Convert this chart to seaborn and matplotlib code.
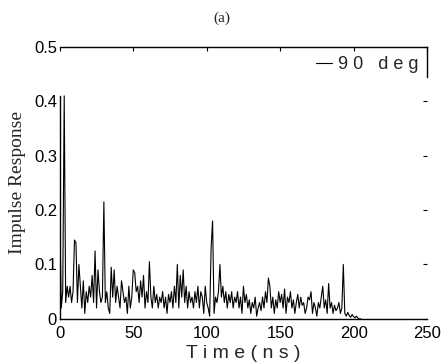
import numpy as np
import pandas as pd
import matplotlib
matplotlib.use("Agg")
import matplotlib.pyplot as plt
import seaborn as sns

# impulse response samples, one per ns
time_ns = list(range(0, 206))
response = [
    0.19, 0.02, 0.05, 0.41, 0.03, 0.06, 0.04, 0.06, 0.03, 0.05,
    0.145, 0.14, 0.03, 0.10, 0.06, 0.02, 0.07, 0.01, 0.05, 0.03,
    0.06, 0.04, 0.08, 0.03, 0.125, 0.02, 0.09, 0.05, 0.03, 0.04,
    0.215, 0.03, 0.05, 0.02, 0.01, 0.095, 0.04, 0.09, 0.03, 0.06,
    0.04, 0.02, 0.07, 0.05, 0.03, 0.04, 0.01, 0.06, 0.02, 0.04,
    0.09, 0.085, 0.05, 0.06, 0.03, 0.07, 0.04, 0.08, 0.02, 0.05,
    0.03, 0.105, 0.04, 0.02, 0.06, 0.03, 0.045, 0.02, 0.04, 0.03,
    0.05, 0.02, 0.04, 0.01, 0.045, 0.03, 0.05, 0.02, 0.06, 0.03,
    0.10, 0.02, 0.08, 0.04, 0.09, 0.03, 0.06, 0.02, 0.05, 0.03,
    0.04, 0.02, 0.05, 0.03, 0.06, 0.02, 0.05, 0.04, 0.01, 0.06,
    0.03, 0.02, 0.005, 0.13, 0.18, 0.01, 0.04, 0.03, 0.05, 0.10,
    0.04, 0.06, 0.03, 0.05, 0.02, 0.045, 0.03, 0.05, 0.02, 0.04,
    0.03, 0.05, 0.02, 0.04, 0.01, 0.06, 0.03, 0.045, 0.02, 0.035,
    0.01, 0.03, 0.02, 0.04, 0.005, 0.02, 0.03, 0.015, 0.04, 0.02,
    0.05, 0.03, 0.075, 0.06, 0.02, 0.04, 0.01, 0.035, 0.02, 0.05,
    0.03, 0.045, 0.02, 0.055, 0.01, 0.04, 0.03, 0.05, 0.02, 0.035,
    0.01, 0.03, 0.045, 0.02, 0.04, 0.025, 0.03, 0.01, 0.02, 0.04,
    0.035, 0.05, 0.01, 0.03, 0.02, 0.005, 0.03, 0.02, 0.04, 0.06,
    0.02, 0.035, 0.01, 0.065, 0.02, 0.03, 0.01, 0.025, 0.015, 0.02,
    0.03, 0.01, 0.02, 0.10, 0.01, 0.005, 0.012, 0.006, 0.003, 0.008,
    0.004, 0.002, 0.005, 0.001, 0.0, 0.0,
]
x_ticks = [0, 50, 100, 150, 200, 250]
y_ticks = [0, 0.1, 0.2, 0.3, 0.4, 0.5]
y_tick_labels = ["0", "0.1", "0.2", "0.3", "0.4", "0.5"]

df = pd.DataFrame({"Time": time_ns, "Response": response})

sns.set_style("white")
plt.rcParams["font.family"] = ["Liberation Sans", "DejaVu Sans"]

fig = plt.figure(figsize=(4.43, 3.64), dpi=100)
ax = fig.add_axes([0.135, 0.124, 0.829, 0.747])

sns.lineplot(data=df, x="Time", y="Response", color="black", linewidth=0.8,
             label="9 0   d e g", ax=ax)

ax.set_xlim(0, 250)
ax.set_ylim(0, 0.5)
ax.set_xticks(x_ticks)
ax.set_yticks(y_ticks)
ax.set_yticklabels(y_tick_labels)
ax.tick_params(direction="in", length=3, width=0.8, top=True, right=True,
               labelsize=12, colors="black")
ax.tick_params(axis="y", pad=2)
ax.tick_params(axis="x", pad=5)

for side in ax.spines:
    ax.spines[side].set_color("black")
    ax.spines[side].set_linewidth(1.0)
ax.spines["left"].set_bounds(0, 0.41)
ax.spines["right"].set_bounds(0.445, 0.5)

ax.set_xlabel("T i m e ( n s )", fontsize=14, labelpad=3)
ax.set_ylabel("Impulse Response", fontsize=14, family="Liberation Serif", labelpad=6)

leg = ax.legend(loc="upper right", frameon=False, fontsize=13, handlelength=0.9,
                handletextpad=0.3, borderaxespad=0.1)

fig.text(0.5, 0.95, "(a)", ha="center", va="center", fontsize=11,
         family="Liberation Serif")

fig.savefig("out.png", dpi=100)
